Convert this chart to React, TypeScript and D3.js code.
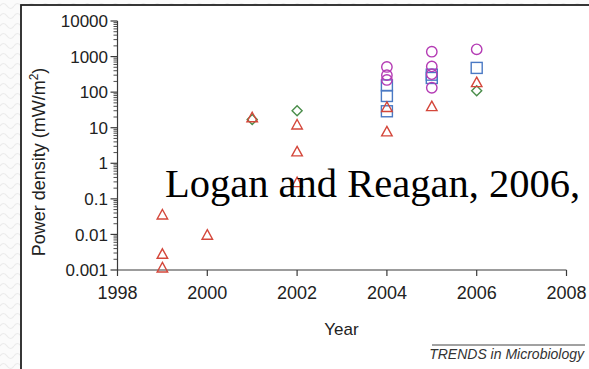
import React from "react";
import * as d3 from "d3";

// Microbial fuel cell power density by year of publication
const triangleYears = [1999, 1999, 1999, 2000, 2001, 2002, 2002, 2002, 2004, 2004, 2005, 2006];
const triangleValues = [0.037, 0.0029, 0.0012, 0.01, 20, 12.5, 2.2, 0.3, 39, 8, 41, 195];

const diamondYears = [2001, 2002, 2006];
const diamondValues = [17, 30, 110];

const squareYears = [2004, 2004, 2004, 2005, 2005, 2006];
const squareValues = [155, 78, 29, 310, 250, 480];

const circleYears = [2004, 2004, 2004, 2005, 2005, 2005, 2005, 2006];
const circleValues = [510, 300, 220, 1370, 530, 320, 133, 1600];

const xTicks = [1998, 2000, 2002, 2004, 2006, 2008];
const yTicks = [0.001, 0.01, 0.1, 1, 10, 100, 1000, 10000];
const yTickLabels = ["0.001", "0.01", "0.1", "1", "10", "100", "1000", "10000"];

const W = 589;
const H = 369;

const x = d3.scaleLinear().domain([1998, 2008]).range([117.5, 566.5]);
const y = d3.scaleLog().domain([0.001, 10000]).range([270, 21]);

const RED = "#d4473b";
const GREEN = "#4a8d4a";
const BLUE = "#4a79c4";
const MAGENTA = "#b43bb4";
const AXIS = "#3a3a3a";

const minorTicks: number[] = [];
for (let e = -3; e < 4; e++) {
  for (let m = 2; m <= 9; m++) minorTicks.push(m * Math.pow(10, e));
}

function trianglePath(cx: number, cy: number) {
  const w = 10.5, h = 9.5;
  return `M${cx},${cy - h / 2}L${cx + w / 2},${cy + h / 2}L${cx - w / 2},${cy + h / 2}Z`;
}
function diamondPath(cx: number, cy: number) {
  const r = 5;
  return `M${cx},${cy - r}L${cx + r},${cy}L${cx},${cy + r}L${cx - r},${cy}Z`;
}

const font = "'Liberation Sans', Arial, Helvetica, sans-serif";

export default function App() {
  return (
    <svg
      width={W}
      height={H}
      style={{ position: "fixed", left: 0, top: 0, background: "#ffffff" }}
    >
      <defs>
        <pattern id="waves" width="14" height="10" patternUnits="userSpaceOnUse">
          <rect width="14" height="10" fill="#fbfbfb" />
          <path d="M0,6 Q3.5,1 7,6 T14,6" fill="none" stroke="#ebebeb" strokeWidth="1.2" />
        </pattern>
      </defs>
      <rect x={0} y={0} width={W} height={H} fill="url(#waves)" />
      <rect x={21} y={5} width={W + 10} height={H + 10} fill="#ffffff" stroke="#222" strokeWidth={1.8} />

      {/* y axis */}
      <line x1={117.5} x2={117.5} y1={y(10000)} y2={y(0.001)} stroke={AXIS} strokeWidth={1.2} />
      {minorTicks.map((t, i) => (
        <line key={"m" + i} x1={113.5} x2={117.5} y1={y(t)} y2={y(t)} stroke={AXIS} strokeWidth={0.9} />
      ))}
      {yTicks.map((t, i) => (
        <g key={"y" + i}>
          <line x1={110.5} x2={117.5} y1={y(t)} y2={y(t)} stroke={AXIS} strokeWidth={1.2} />
          <text
            x={108}
            y={y(t)}
            dy="0.36em"
            textAnchor="end"
            fontFamily={font}
            fontSize={17}
            fill="#222"
          >
            {yTickLabels[i]}
          </text>
        </g>
      ))}

      {/* x axis */}
      <line x1={x(1998)} x2={x(2008)} y1={270} y2={270} stroke={AXIS} strokeWidth={1.2} />
      {xTicks.map((t) => (
        <g key={"x" + t}>
          <line x1={x(t)} x2={x(t)} y1={270} y2={276} stroke={AXIS} strokeWidth={1.2} />
          <text x={x(t)} y={299} textAnchor="middle" fontFamily={font} fontSize={18} fill="#222">
            {t}
          </text>
        </g>
      ))}

      <text x={341.5} y={335} textAnchor="middle" fontFamily={font} fontSize={17} fill="#222">
        Year
      </text>
      <text
        transform="translate(45,162) rotate(-90)"
        textAnchor="middle"
        fontFamily={font}
        fontSize={18}
        fill="#222"
      >
        Power density (mW/m
        <tspan fontSize={12} dy={-7}>2</tspan>
        <tspan dy={7}>)</tspan>
      </text>

      {/* markers */}
      {diamondYears.map((yr, i) => (
        <path key={"d" + i} d={diamondPath(x(yr), y(diamondValues[i]))} fill="none" stroke={GREEN} strokeWidth={1.4} />
      ))}
      {squareYears.map((yr, i) => (
        <rect
          key={"s" + i}
          x={x(yr) - 5.5}
          y={y(squareValues[i]) - 5.5}
          width={11}
          height={11}
          fill="none"
          stroke={BLUE}
          strokeWidth={1.4}
        />
      ))}
      {circleYears.map((yr, i) => (
        <circle key={"c" + i} cx={x(yr)} cy={y(circleValues[i])} r={5.2} fill="none" stroke={MAGENTA} strokeWidth={1.4} />
      ))}
      {triangleYears.map((yr, i) => (
        <path key={"t" + i} d={trianglePath(x(yr), y(triangleValues[i]))} fill="none" stroke={RED} strokeWidth={1.4} />
      ))}

      <text x={165} y={197} fontFamily="'Liberation Serif', 'Times New Roman', serif" fontSize={40.5} fill="#000">
        Logan and Reagan, 2006,
      </text>

      {/* source credit */}
      <line x1={432} x2={585} y1={345} y2={345} stroke="#444" strokeWidth={1} />
      <text x={584} y={359} textAnchor="end" fontFamily={font} fontSize={14} fontStyle="italic" fill="#333">
        TRENDS in Microbiology
      </text>
    </svg>
  );
}
